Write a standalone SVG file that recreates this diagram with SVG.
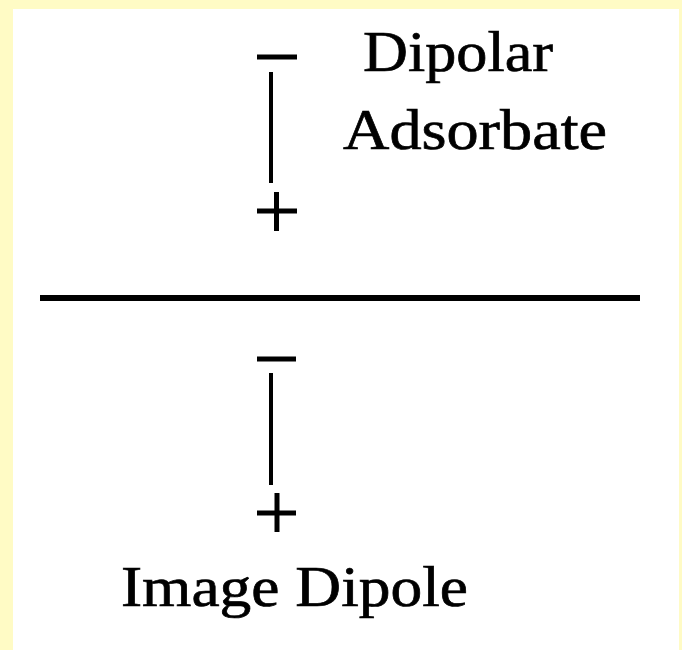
<svg xmlns="http://www.w3.org/2000/svg" width="682" height="650" viewBox="0 0 682 650">
<style>
.t{font-family:"Liberation Serif","Times New Roman",serif;font-size:58px;fill:#000;stroke:#000;stroke-width:0.7}
.s{stroke:#000;stroke-linecap:butt;fill:none}
</style>
<rect x="0" y="0" width="682" height="650" fill="#FFFBC5"/>
<rect x="13" y="9" width="666" height="641" fill="#FFFFFF"/>
<g id="surface">
<line class="s" x1="40" y1="298" x2="640" y2="298" stroke-width="6"/>
</g>
<g id="adsorbate">
<line class="s" x1="257" y1="57" x2="297" y2="57" stroke-width="5"/>
<line class="s" x1="271" y1="72" x2="271" y2="183" stroke-width="4"/>
<line class="s" x1="257" y1="211" x2="297" y2="211" stroke-width="5"/>
<line class="s" x1="276.5" y1="192" x2="276.5" y2="231" stroke-width="5"/>
<text class="t" x="363" y="71" textLength="190" lengthAdjust="spacingAndGlyphs">Dipolar</text>
<text class="t" x="343" y="149" textLength="264" lengthAdjust="spacingAndGlyphs">Adsorbate</text>
</g>
<g id="image">
<line class="s" x1="257" y1="359" x2="296" y2="359" stroke-width="5"/>
<line class="s" x1="271" y1="373" x2="271" y2="485" stroke-width="4"/>
<line class="s" x1="257" y1="513" x2="296" y2="513" stroke-width="5"/>
<line class="s" x1="277" y1="493" x2="277" y2="532" stroke-width="5"/>
<text class="t" x="121" y="606" textLength="347" lengthAdjust="spacingAndGlyphs">Image Dipole</text>
</g>
</svg>
